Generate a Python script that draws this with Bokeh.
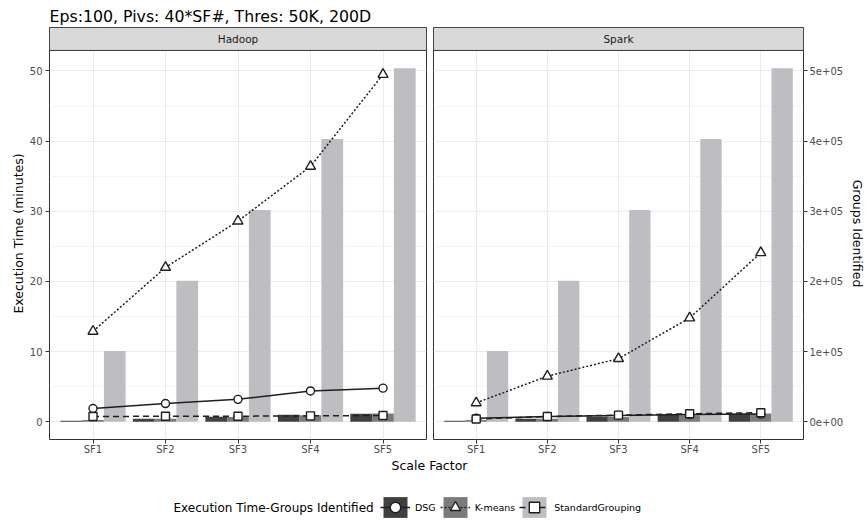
from bokeh.plotting import figure
from bokeh.models import (Range1d, FactorRange, LinearAxis, FixedTicker, Grid,
                          BoxAnnotation, Label, Legend, LegendItem, ColumnDataSource)
from bokeh.transform import dodge
from bokeh.layouts import column, row
from bokeh.embed import file_html
from bokeh.resources import INLINE

# ---------------- data ----------------
title_text = "Eps:100, Pivs: 40*SF#, Thres: 50K, 200D"
scale_factors = ["SF1", "SF2", "SF3", "SF4", "SF5"]
platforms = ["Hadoop", "Spark"]
methods = ["DSG", "K-means", "StandardGrouping"]

# execution time in minutes (lines)
hadoop_dsg_min = [1.9, 2.6, 3.2, 4.4, 4.8]
hadoop_kmeans_min = [12.9, 22.0, 28.6, 36.4, 49.5]
hadoop_sg_min = [0.75, 0.8, 0.8, 0.85, 0.9]
spark_dsg_min = [0.5, 0.75, 0.9, 1.05, 1.1]
spark_kmeans_min = [2.7, 6.5, 9.0, 14.8, 24.1]
spark_sg_min = [0.4, 0.75, 0.95, 1.15, 1.3]

# groups identified (bars)
groups_dsg = [1500, 4500, 7200, 10000, 11500]
groups_kmeans = [2500, 4500, 7000, 9500, 11800]
groups_sg = [101000, 201000, 302000, 403000, 504000]

time_ticks = [0, 10, 20, 30, 40, 50]
time_minor_ticks = [5, 15, 25, 35, 45]
group_ticks = [0, 100000, 200000, 300000, 400000, 500000]
groups_per_minute = 10000  # secondary axis scale

x_title = "Scale Factor"
y_title = "Execution Time (minutes)"
y2_title = "Groups Identified"
legend_title = "Execution Time-Groups Identified"

# ---------------- style ----------------
FONT = "DejaVu Sans"
bar_colors = ["#404040", "#7B7B7B", "#BEBEC2"]
line_dashes = ["solid", "2 2", "6 4"]
markers = ["circle", "triangle", "square"]
marker_sizes = [8, 10, 8]
INK = "#1F1F1F"
GRID = "#EBEBEB"
BORDER = "#333333"
STRIP = "#D9D9D9"
TICKTXT = "#4D4D4D"

panel_h = 390
strip_h = 23
fw_left, fw_right = 377, 376
top_h = 27
bottom_axis_h = 17
total_w, total_h = 868, 523

all_vals = ([g / groups_per_minute for g in groups_sg + groups_dsg + groups_kmeans]
            + hadoop_kmeans_min + spark_kmeans_min)
vmax = max(all_vals)
y_lo = -0.05 * vmax
y_hi = 1.05 * vmax
y_strip = y_hi + (y_hi - y_lo) * strip_h / panel_h
NAN = float("nan")


def make_panel(name, t_dsg, t_km, t_sg, left, right):
    p = figure(
        x_range=FactorRange(factors=scale_factors, range_padding=0.1,
                            range_padding_units="absolute"),
        y_range=Range1d(y_lo, y_strip),
        width=(49 + fw_left + 3) if left else (total_w - 49 - fw_left - 3),
        height=top_h + panel_h + strip_h + bottom_axis_h,
        output_backend="svg", toolbar_location=None,
        y_axis_location="left" if left else None,
        min_border_left=49 if left else 4,
        min_border_right=3 if left else (total_w - 49 - fw_left - 3 - 4 - fw_right),
        min_border_top=top_h, min_border_bottom=bottom_axis_h,
    )
    p.extra_y_ranges = {"groups": Range1d(y_lo * groups_per_minute, y_strip * groups_per_minute)}
    p.outline_line_color = BORDER
    p.outline_line_width = 1
    p.background_fill_color = "white"
    p.border_fill_color = "white"

    xa = p.xaxis[0]
    xa.axis_line_color = None
    xa.major_tick_line_color = BORDER
    xa.major_tick_out = 4
    xa.major_tick_in = 0
    xa.major_label_standoff = 0
    xa.major_label_text_font = FONT
    xa.major_label_text_font_size = "10px"
    xa.major_label_text_color = TICKTXT
    p.xgrid.grid_line_color = GRID

    yticker = FixedTicker(ticks=time_ticks, minor_ticks=time_minor_ticks)
    if left:
        ya = p.yaxis[0]
        ya.ticker = yticker
        ya.axis_line_color = None
        ya.major_tick_line_color = BORDER
        ya.major_tick_out = 4
        ya.major_tick_in = 0
        ya.minor_tick_line_color = None
        ya.major_label_standoff = 3
        ya.major_label_text_font = FONT
        ya.major_label_text_font_size = "10px"
        ya.major_label_text_color = TICKTXT
        ya.axis_label = y_title
        ya.axis_label_text_font = FONT
        ya.axis_label_text_font_size = "12.5px"
        ya.axis_label_text_font_style = "normal"
        ya.axis_label_text_color = "#000000"
        ya.axis_label_standoff = 1
        p.ygrid.ticker = yticker
        p.ygrid.grid_line_color = GRID
        p.ygrid.minor_grid_line_color = GRID
        p.ygrid.minor_grid_line_width = 0.5
    else:
        g = Grid(dimension=1, ticker=yticker, grid_line_color=GRID,
                 minor_grid_line_color=GRID, minor_grid_line_width=0.5)
        p.add_layout(g, "center")

    if right:
        ra = LinearAxis(y_range_name="groups",
                        ticker=FixedTicker(ticks=group_ticks),
                        major_label_overrides={t: f"{t:.0e}" for t in group_ticks})
        ra.axis_line_color = None
        ra.major_tick_line_color = BORDER
        ra.major_tick_out = 4
        ra.major_tick_in = 0
        ra.minor_tick_line_color = None
        ra.major_label_standoff = 2
        ra.major_label_text_font = FONT
        ra.major_label_text_font_size = "10px"
        ra.major_label_text_color = TICKTXT
        ra.axis_label = y2_title
        ra.axis_label_text_font = FONT
        ra.axis_label_text_font_size = "12.5px"
        ra.axis_label_text_font_style = "normal"
        ra.axis_label_text_color = "#000000"
        ra.axis_label_standoff = 4
        p.add_layout(ra, "right")

    src = ColumnDataSource(dict(sf=scale_factors, g0=groups_dsg, g1=groups_kmeans, g2=groups_sg,
                                t0=t_dsg, t1=t_km, t2=t_sg))
    n = len(methods)
    bw = 0.9 / n
    for i in range(n):
        off = (i - (n - 1) / 2) * bw
        p.vbar(x=dodge("sf", off, range=p.x_range), top=f"g{i}", width=bw,
               y_range_name="groups", fill_color=bar_colors[i], line_color=None, source=src)
    for i in range(n):
        p.line(x="sf", y=f"t{i}", line_color=INK, line_width=1.5,
               line_dash=line_dashes[i], source=src)
    for i in range(n):
        p.scatter(x="sf", y=f"t{i}", marker=markers[i], size=marker_sizes[i],
                  fill_color="white", line_color=INK, line_width=1.4, source=src)

    # facet strip
    p.add_layout(BoxAnnotation(bottom=y_hi, fill_color=STRIP, fill_alpha=1,
                               line_color=BORDER, line_width=1, line_alpha=1))
    p.add_layout(Label(x=len(scale_factors) / 2, y=(y_hi + y_strip) / 2, text=name,
                       text_align="center", text_baseline="middle", text_font=FONT,
                       text_font_size="10.5px", text_color="#1A1A1A"))
    return p


pL = make_panel(platforms[0], hadoop_dsg_min, hadoop_kmeans_min, hadoop_sg_min, True, False)
pR = make_panel(platforms[1], spark_dsg_min, spark_kmeans_min, spark_sg_min, False, True)

pL.title.text = title_text
pL.title.text_font = FONT
pL.title.text_font_size = "15.75px"
pL.title.text_font_style = "normal"
pL.title.text_color = "#000000"
pL.title.vertical_align = "top"
pL.title.standoff = 0
pL.title.offset = 0

# ---------------- bottom: x title + legend ----------------
bh = total_h - (top_h + panel_h + strip_h + bottom_axis_h)
pB = figure(width=total_w, height=bh, x_range=Range1d(0, total_w), y_range=Range1d(0, bh),
            output_backend="svg", toolbar_location=None, min_border=0,
            x_axis_location=None, y_axis_location=None, outline_line_color=None)
for g in pB.grid:
    g.visible = False
pB.add_layout(Label(x=429, y=bh - 8, text=x_title, text_align="center", text_baseline="middle",
                    text_font=FONT, text_font_size="12.5px", text_color="#000000"))
pB.add_layout(Label(x=173, y=bh - 50, text=legend_title, text_align="left", text_baseline="middle",
                    text_font=FONT, text_font_size="12px", text_color="#000000"))
items = []
for i, m in enumerate(methods):
    rb = pB.vbar(x=[NAN], top=[NAN], width=1, fill_color=bar_colors[i], line_color=None)
    rl = pB.line(x=[NAN], y=[NAN], line_color=INK, line_width=1.5, line_dash=line_dashes[i])
    rs = pB.scatter(x=[NAN], y=[NAN], marker=markers[i], fill_color="white",
                    line_color=INK, line_width=1.4)
    items.append(LegendItem(label=m, renderers=[rb, rl, rs]))
leg = Legend(items=items, orientation="horizontal", location=(380, bh - 50 - 13),
             glyph_width=30, glyph_height=26, label_standoff=5, spacing=4,
             padding=0, margin=0, label_text_font=FONT, label_text_font_size="9.5px",
             label_text_color="#000000", background_fill_alpha=0, border_line_color=None,
             label_height=20, label_width=0)
pB.add_layout(leg, "center")

layout = column(row(pL, pR), pB)
open("out.html", "w").write(file_html(layout, INLINE))
